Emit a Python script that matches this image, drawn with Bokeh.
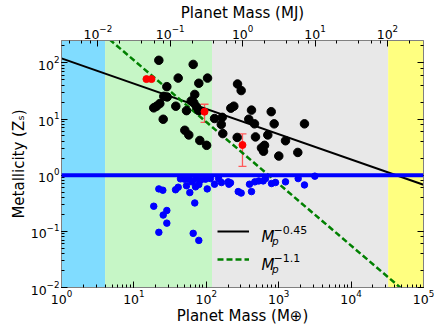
import numpy as np
from bokeh.plotting import figure
from bokeh.models import (Range1d, LogAxis, LogScale, BoxAnnotation, Whisker, TeeHead,
                          ColumnDataSource, Legend, LegendItem, Label, Span,
                          CustomJSTickFormatter)
from bokeh.embed import file_html
from bokeh.resources import INLINE

# ---------------- data ----------------
M_JUP = 317.8  # Earth masses per Jupiter mass

black_mass = [22.1, 65.9, 40.9, 104, 78.8, 28.5, 69.3, 25.9, 28.8, 61.9, 22.8, 20.5,
              18.8, 37.9, 53.3, 67.2, 73.2, 78.8, 25.4, 130, 166, 161, 50.5, 57.3,
              169, 81.3, 101, 270, 303, 218, 240, 421, 788, 386, 463, 866, 2270,
              267, 478, 707, 1242, 637, 578, 617, 1003, 1836]
black_z = [111, 93.8, 53.5, 53.5, 43.3, 37.7, 27.4, 25.3, 24.7, 21.0, 18.8, 16.9,
           15.8, 16.9, 14.1, 19.4, 16.5, 14.1, 9.9, 10.2, 10.7, 8.0, 6.3, 5.2,
           5.5, 4.15, 3.4, 42, 32.1, 15.6, 16.9, 14.4, 13.5, 9.9, 8.2, 8.2, 8.2,
           4.7, 4.8, 5.2, 4.1, 3.4, 3.06, 2.67, 2.19, 2.54]

blue_mass = [22.1, 25.1, 37.6, 40.9, 53.3, 59.2, 71, 78.8, 63.8, 50, 103, 130, 162,
             205, 18.8, 28.5, 25.4, 69.3, 28.5, 22.1, 65.9, 78.8, 83.2, 57.3, 97.5,
             216, 276, 303, 421, 395, 468, 611, 796, 903, 1242, 1858, 2270, 3155,
             657, 531, 201, 114, 44, 71, 148]
blue_z = [0.57, 0.54, 0.55, 0.61, 0.65, 0.49, 0.62, 0.68, 0.76, 0.85, 0.57, 0.69, 0.74,
          0.69, 0.28, 0.235, 0.195, 0.32, 0.14, 0.096, 0.092, 0.069, 0.81, 0.85, 0.85,
          0.73, 0.51, 0.48, 0.51, 0.69, 0.76, 0.79, 0.71, 0.74, 0.76, 0.87, 0.67, 0.96,
          0.87, 0.79, 0.76, 0.87, 0.86, 0.86, 0.87]

red_mass = [14.9, 17.5, 94.5, 316]
red_z = [51.4, 51.4, 13.5, 3.45]

err_mass = [94.5, 316]
err_low = [8.7, 1.43]
err_high = [18.3, 5.43]

solar_z = 1.0
fit_coefs = [120, 1400]
fit_slopes = [-0.45, -1.1]
fit_sup_labels = ["\u22120.45", "\u22121.1"]

region_edges = [1, 4, 120, 32500, 1e5]
region_colors = ["#80dcff", "#c6f6c6", "#e8e8e8", "#ffff80"]

x_label = "Planet Mass (M\u2295)"
top_label = "Planet Mass (MJ)"
y_label = "Metallicity (Z\u209b)"

x_lo, x_hi = 1, 1e5
y_lo, y_hi = 0.01, 250

FONT = "DejaVu Sans"

# ---------------- figure ----------------
W, H = 436, 327
BL, BR, BT, BB = 61, 13, 36, 39

p = figure(width=W, height=H, x_axis_type="log", y_axis_type="log",
           x_range=Range1d(x_lo, x_hi), y_range=Range1d(y_lo, y_hi),
           output_backend="svg", toolbar_location=None,
           min_border_left=BL, min_border_right=BR, min_border_top=BT,
           min_border_bottom=BB)
p.grid.visible = False
p.outline_line_color = "#808080"
p.background_fill_color = "white"
p.border_fill_color = "white"

for l, r, c in zip(region_edges[:-1], region_edges[1:], region_colors):
    p.add_layout(BoxAnnotation(left=l, right=r, fill_color=c, fill_alpha=1.0,
                               line_alpha=0, level="underlay"))

xs = np.array([x_lo, x_hi], dtype=float)
l_black = p.line(xs, fit_coefs[0] * xs ** fit_slopes[0], line_color="black", line_width=2)
l_green = p.line(xs, fit_coefs[1] * xs ** fit_slopes[1], line_color="green",
                 line_width=2.5, line_dash="6 3")

p.scatter(blue_mass, blue_z, size=6.5, color="blue")
p.add_layout(Span(location=solar_z, dimension="width", line_color="blue", line_width=4))
p.scatter(black_mass, black_z, size=8.5, color="black")

src = ColumnDataSource(dict(x=err_mass, lo=err_low, hi=err_high))
ecol = "#ff5a5a"
p.add_layout(Whisker(source=src, base="x", lower="lo", upper="hi", dimension="height",
                     line_color=ecol, line_width=1.3,
                     upper_head=TeeHead(size=8, line_color=ecol, line_width=1.3),
                     lower_head=TeeHead(size=8, line_color=ecol, line_width=1.3)))
p.scatter(red_mass, red_z, size=7, color="red")

# ---------------- axes ----------------
def style(ax, title=None):
    ax.major_tick_in = 6
    ax.major_tick_out = 0
    ax.minor_tick_in = 3
    ax.minor_tick_out = 0
    ax.axis_line_color = "#808080"
    ax.major_tick_line_color = "black"
    ax.minor_tick_line_color = "black"
    ax.major_label_text_font = FONT
    ax.major_label_text_font_size = "12.5px"
    ax.major_label_text_color = "black"
    ax.major_label_standoff = 2
    if title is not None:
        ax.axis_label = title
        ax.axis_label_text_font = FONT
        ax.axis_label_text_font_size = "15px"
        ax.axis_label_text_font_style = "normal"
        ax.axis_label_text_color = "black"
        ax.axis_label_standoff = 0

style(p.xaxis[0], x_label)
style(p.yaxis[0], y_label)

p.extra_x_ranges = {"mj": Range1d(x_lo / M_JUP, x_hi / M_JUP)}
p.extra_x_scales = {"mj": LogScale()}
top = LogAxis(x_range_name="mj")
style(top, top_label)
p.add_layout(top, "above")

right = LogAxis(formatter=CustomJSTickFormatter(code="return ''"))
style(right)
right.major_label_standoff = 0
p.add_layout(right, "right")

# ---------------- legend ----------------
leg = Legend(items=[LegendItem(label=" ", renderers=[l_black]),
                    LegendItem(label=" ", renderers=[l_green])],
             location=(156, 14), glyph_width=32, glyph_height=28, label_height=28,
             spacing=0, padding=0, margin=0, label_standoff=0,
             border_line_alpha=0, background_fill_alpha=0,
             label_text_font_size="6px")
p.add_layout(leg)

for i, sup in enumerate(fit_sup_labels):
    base_y = 50.7 - 28 * i
    kw = dict(x_units="screen", y_units="screen", text_font=FONT, text_color="black",
              text_baseline="alphabetic")
    p.add_layout(Label(x=200, y=base_y, text="M", text_font_style="italic",
                       text_font_size="15px", **kw))
    p.add_layout(Label(x=210.5, y=base_y - 4, text="p", text_font_style="italic",
                       text_font_size="10.5px", **kw))
    p.add_layout(Label(x=212, y=base_y + 6.5, text=sup, text_font_size="11px", **kw))

open("out.html", "w").write(file_html(p, INLINE))
